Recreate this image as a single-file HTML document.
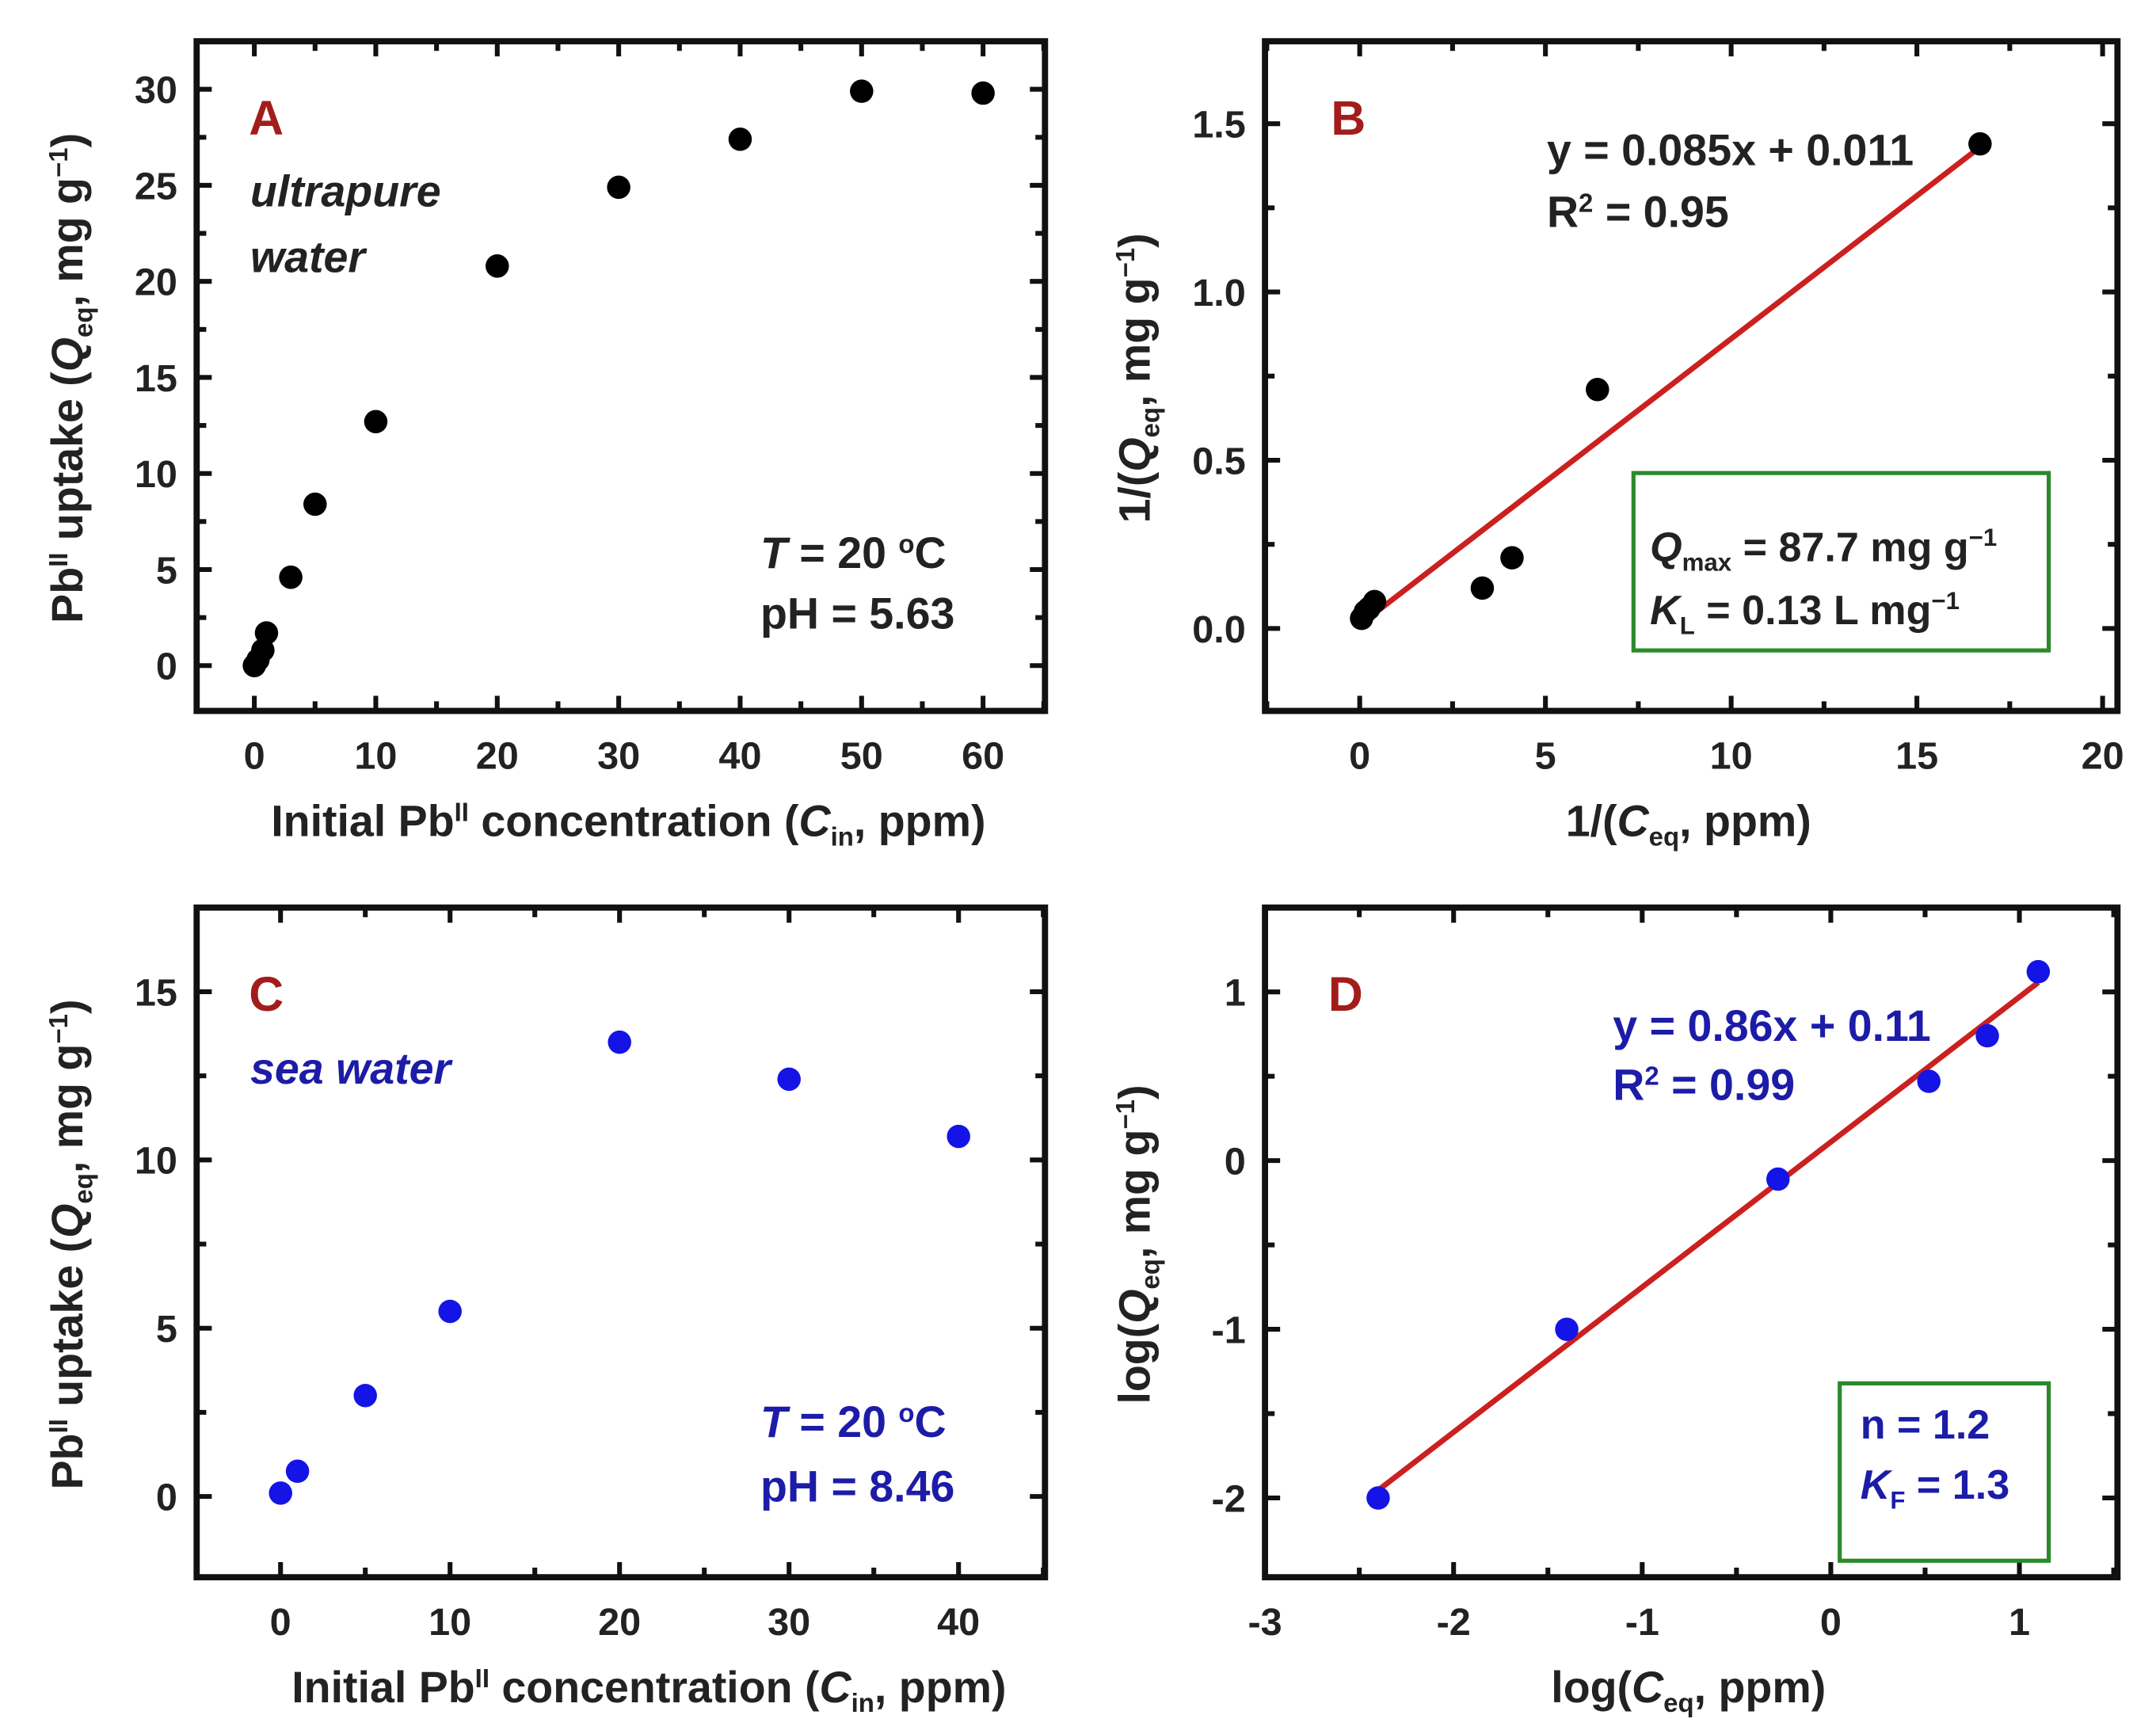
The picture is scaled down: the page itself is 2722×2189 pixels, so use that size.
<!DOCTYPE html>
<html><head><meta charset="utf-8"><style>
html,body{margin:0;padding:0;background:#fff}
svg{display:block}
text{font-family:"Liberation Sans",Arial,sans-serif;font-weight:bold}
</style></head><body>
<svg id="fig" width="2722" height="2189" viewBox="0 0 1568 1261" xmlns="http://www.w3.org/2000/svg">
<g id="layer"></g>
<g font-size="32">
  <text x="181" y="98" fill="#a31c1c" font-size="35">A</text>
  <text x="182" y="150" font-style="italic" fill="#222">ultrapure</text>
  <text x="182" y="198" font-style="italic" fill="#222">water</text>
  <text x="553" y="413" fill="#222"><tspan font-style="italic">T</tspan> = 20 <tspan font-size="19" dy="-11">o</tspan><tspan dy="11">C</tspan></text>
  <text x="553" y="457" fill="#222">pH = 5.63</text>

  <text x="968" y="98" fill="#a31c1c" font-size="35">B</text>
  <text x="1125" y="120" fill="#222">y = 0.085x + 0.011</text>
  <text x="1125" y="165" fill="#222">R<tspan font-size="19" dy="-11">2</tspan><tspan dy="11"> = 0.95</tspan></text>
  <rect x="1188" y="344" width="302" height="129" fill="none" stroke="#2a8a2a" stroke-width="3"/>
  <text x="1200" y="408" fill="#222" font-size="30"><tspan font-style="italic">Q</tspan><tspan font-size="18" dy="7">max</tspan><tspan dy="-7"> = 87.7 mg g</tspan><tspan font-size="18" dy="-11">−1</tspan></text>
  <text x="1200" y="454" fill="#222" font-size="30"><tspan font-style="italic">K</tspan><tspan font-size="18" dy="7">L</tspan><tspan dy="-7"> = 0.13 L mg</tspan><tspan font-size="18" dy="-11">−1</tspan></text>

  <text x="181" y="735" fill="#a31c1c" font-size="35">C</text>
  <text x="182" y="788" font-style="italic" fill="#1c1ca8">sea water</text>
  <text x="553" y="1045" fill="#1c1ca8"><tspan font-style="italic">T</tspan> = 20 <tspan font-size="19" dy="-11">o</tspan><tspan dy="11">C</tspan></text>
  <text x="553" y="1092" fill="#1c1ca8">pH = 8.46</text>

  <text x="966" y="735" fill="#a31c1c" font-size="35">D</text>
  <text x="1173" y="757" fill="#1c1ca8">y = 0.86x + 0.11</text>
  <text x="1173" y="800" fill="#1c1ca8">R<tspan font-size="19" dy="-11">2</tspan><tspan dy="11"> = 0.99</tspan></text>
  <rect x="1338" y="1006" width="152" height="129" fill="none" stroke="#2a8a2a" stroke-width="3"/>
  <text x="1353" y="1046" fill="#1c1ca8" font-size="30">n = 1.2</text>
  <text x="1353" y="1090" fill="#1c1ca8" font-size="30"><tspan font-style="italic">K</tspan><tspan font-size="18" dy="7">F</tspan><tspan dy="-7"> = 1.3</tspan></text>

  <text transform="translate(60,275) rotate(-90)" text-anchor="middle" font-size="32" fill="#222">Pb<tspan font-size="19" dy="-11">II</tspan><tspan dy="11"> uptake (</tspan><tspan font-style="italic">Q</tspan><tspan font-size="19" dy="7">eq</tspan><tspan dy="-7">, mg g</tspan><tspan font-size="19" dy="-11">−1</tspan><tspan dy="11">)</tspan></text>
  <text x="457" y="608" text-anchor="middle" font-size="32" fill="#222">Initial Pb<tspan font-size="19" dy="-11">II</tspan><tspan dy="11"> concentration (</tspan><tspan font-style="italic">C</tspan><tspan font-size="19" dy="7">in</tspan><tspan dy="-7">, ppm)</tspan></text>
  <text transform="translate(836,275) rotate(-90)" text-anchor="middle" font-size="32" fill="#222">1/(<tspan font-style="italic">Q</tspan><tspan font-size="19" dy="7">eq</tspan><tspan dy="-7">, mg g</tspan><tspan font-size="19" dy="-11">−1</tspan><tspan dy="11">)</tspan></text>
  <text x="1228" y="608" text-anchor="middle" font-size="32" fill="#222">1/(<tspan font-style="italic">C</tspan><tspan font-size="19" dy="7">eq</tspan><tspan dy="-7">, ppm)</tspan></text>
  <text transform="translate(60,905) rotate(-90)" text-anchor="middle" font-size="32" fill="#222">Pb<tspan font-size="19" dy="-11">II</tspan><tspan dy="11"> uptake (</tspan><tspan font-style="italic">Q</tspan><tspan font-size="19" dy="7">eq</tspan><tspan dy="-7">, mg g</tspan><tspan font-size="19" dy="-11">−1</tspan><tspan dy="11">)</tspan></text>
  <text x="472" y="1238" text-anchor="middle" font-size="32" fill="#222">Initial Pb<tspan font-size="19" dy="-11">II</tspan><tspan dy="11"> concentration (</tspan><tspan font-style="italic">C</tspan><tspan font-size="19" dy="7">in</tspan><tspan dy="-7">, ppm)</tspan></text>
  <text transform="translate(836,905) rotate(-90)" text-anchor="middle" font-size="32" fill="#222">log(<tspan font-style="italic">Q</tspan><tspan font-size="19" dy="7">eq</tspan><tspan dy="-7">, mg g</tspan><tspan font-size="19" dy="-11">−1</tspan><tspan dy="11">)</tspan></text>
  <text x="1228" y="1238" text-anchor="middle" font-size="32" fill="#222">log(<tspan font-style="italic">C</tspan><tspan font-size="19" dy="7">eq</tspan><tspan dy="-7">, ppm)</tspan></text>
</g>
</svg>
<script>
// Panel A data
const aX = [0, 0.3, 0.7, 1, 3, 5, 10, 20, 30, 40, 50, 60];
const aY = [0, 0.3, 0.8, 1.7, 4.6, 8.4, 12.7, 20.8, 24.9, 27.4, 29.9, 29.8];
const aXTicks = [0, 10, 20, 30, 40, 50, 60];
const aYTicks = [0, 5, 10, 15, 20, 25, 30];
// Panel B data
const bX = [0.05, 0.15, 0.25, 0.4, 3.3, 4.1, 6.4, 16.7];
const bY = [0.03, 0.05, 0.06, 0.08, 0.12, 0.21, 0.71, 1.44];
const bFit = [0.085, 0.011];
const bFitRange = [0, 16.7];
const bXTicks = [0, 5, 10, 15, 20];
const bYTicks = [0.0, 0.5, 1.0, 1.5];
// Panel C data
const cX = [0, 1, 5, 10, 20, 30, 40];
const cY = [0.1, 0.75, 3.0, 5.5, 13.5, 12.4, 10.7];
const cXTicks = [0, 10, 20, 30, 40];
const cYTicks = [0, 5, 10, 15];
// Panel D data
const dX = [-2.4, -1.4, -0.28, 0.52, 0.83, 1.1];
const dY = [-2.0, -1.0, -0.11, 0.47, 0.74, 1.12];
const dFit = [0.86, 0.11];
const dFitRange = [-2.4, 1.1];
const dXTicks = [-3, -2, -1, 0, 1];
const dYTicks = [-2, -1, 0, 1];

const NS = 'http://www.w3.org/2000/svg';
const layer = document.getElementById('layer');
function mk(tag, attrs, parent) {
  const e = document.createElementNS(NS, tag);
  for (const k in attrs) e.setAttribute(k, attrs[k]);
  (parent || layer).appendChild(e);
  return e;
}
function panel(id, box, xr, yr, xt, yt, xminor, yminor, xs, ys, color, fit, fitRange, fmtY) {
  const g = mk('g', {});
  
  
  const [L, T, R, B] = box;
  const sx = v => L + (v - xr[0]) / (xr[1] - xr[0]) * (R - L);
  const sy = v => B - (v - yr[0]) / (yr[1] - yr[0]) * (B - T);
  const ticks = mk('g', {stroke: '#111', 'stroke-width': 3.5}, g);
  
  
  for (let v = Math.ceil(xr[0] / xminor) * xminor; v <= xr[1] + 1e-9; v += xminor) {
    const major = xt.some(t => Math.abs(t - v) < 1e-9);
    const len = major ? 11 : 7;
    const x = sx(v);
    mk('line', {x1: x, x2: x, y1: B, y2: B - len}, ticks);
    mk('line', {x1: x, x2: x, y1: T, y2: T + len}, ticks);
  }
  for (let v = Math.ceil(yr[0] / yminor) * yminor; v <= yr[1] + 1e-9; v += yminor) {
    const major = yt.some(t => Math.abs(t - v) < 1e-9);
    const len = major ? 11 : 7;
    const y = sy(v);
    mk('line', {x1: L, x2: L + len, y1: y, y2: y}, ticks);
    mk('line', {x1: R, x2: R - len, y1: y, y2: y}, ticks);
  }
  xt.forEach(v => {
    const t = mk('text', {x: sx(v), y: B + 42, 'text-anchor': 'middle', 'font-size': 28, fill: '#222'}, g);
    
    
    t.textContent = v;
  });
  yt.forEach(v => {
    const t = mk('text', {x: L - 14, y: sy(v) + 10, 'text-anchor': 'end', 'font-size': 28, fill: '#222'}, g);
    
    
    t.textContent = fmtY(v);
  });
  if (fit) {
    const ln = mk('line', {x1: sx(fitRange[0]), y1: sy(fit[0] * fitRange[0] + fit[1]), x2: sx(fitRange[1]), y2: sy(fit[0] * fitRange[1] + fit[1]), stroke: '#cc2020', 'stroke-width': 4}, g);
    
    
  }
  xs.forEach((v, i) => {
    const c = mk('circle', {cx: sx(v), cy: sy(ys[i]), r: 8.5, fill: color}, g);
    
    
  });
  const fr = mk('rect', {x: L, y: T, width: R - L, height: B - T, fill: 'none', stroke: '#111', 'stroke-width': 4.5}, g);
  
  
}
panel('a', [143, 30, 760, 517], [-4.75, 65.1], [-2.36, 32.5], aXTicks, aYTicks, 5, 2.5, aX, aY, '#000', null, null, v => v);
panel('b', [920, 30, 1540, 517], [-2.55, 20.4], [-0.245, 1.745], bXTicks, bYTicks, 2.5, 0.25, bX, bY, '#000', bFit, bFitRange, v => v.toFixed(1));
panel('c', [143, 660, 760, 1147], [-4.95, 45.1], [-2.4, 17.5], cXTicks, cYTicks, 5, 2.5, cX, cY, '#1414e6', null, null, v => v);
panel('d', [920, 660, 1540, 1147], [-3.0, 1.52], [-2.47, 1.5], dXTicks, dYTicks, 0.5, 0.5, dX, dY, '#1414e6', dFit, dFitRange, v => v);
</script>
</body></html>
